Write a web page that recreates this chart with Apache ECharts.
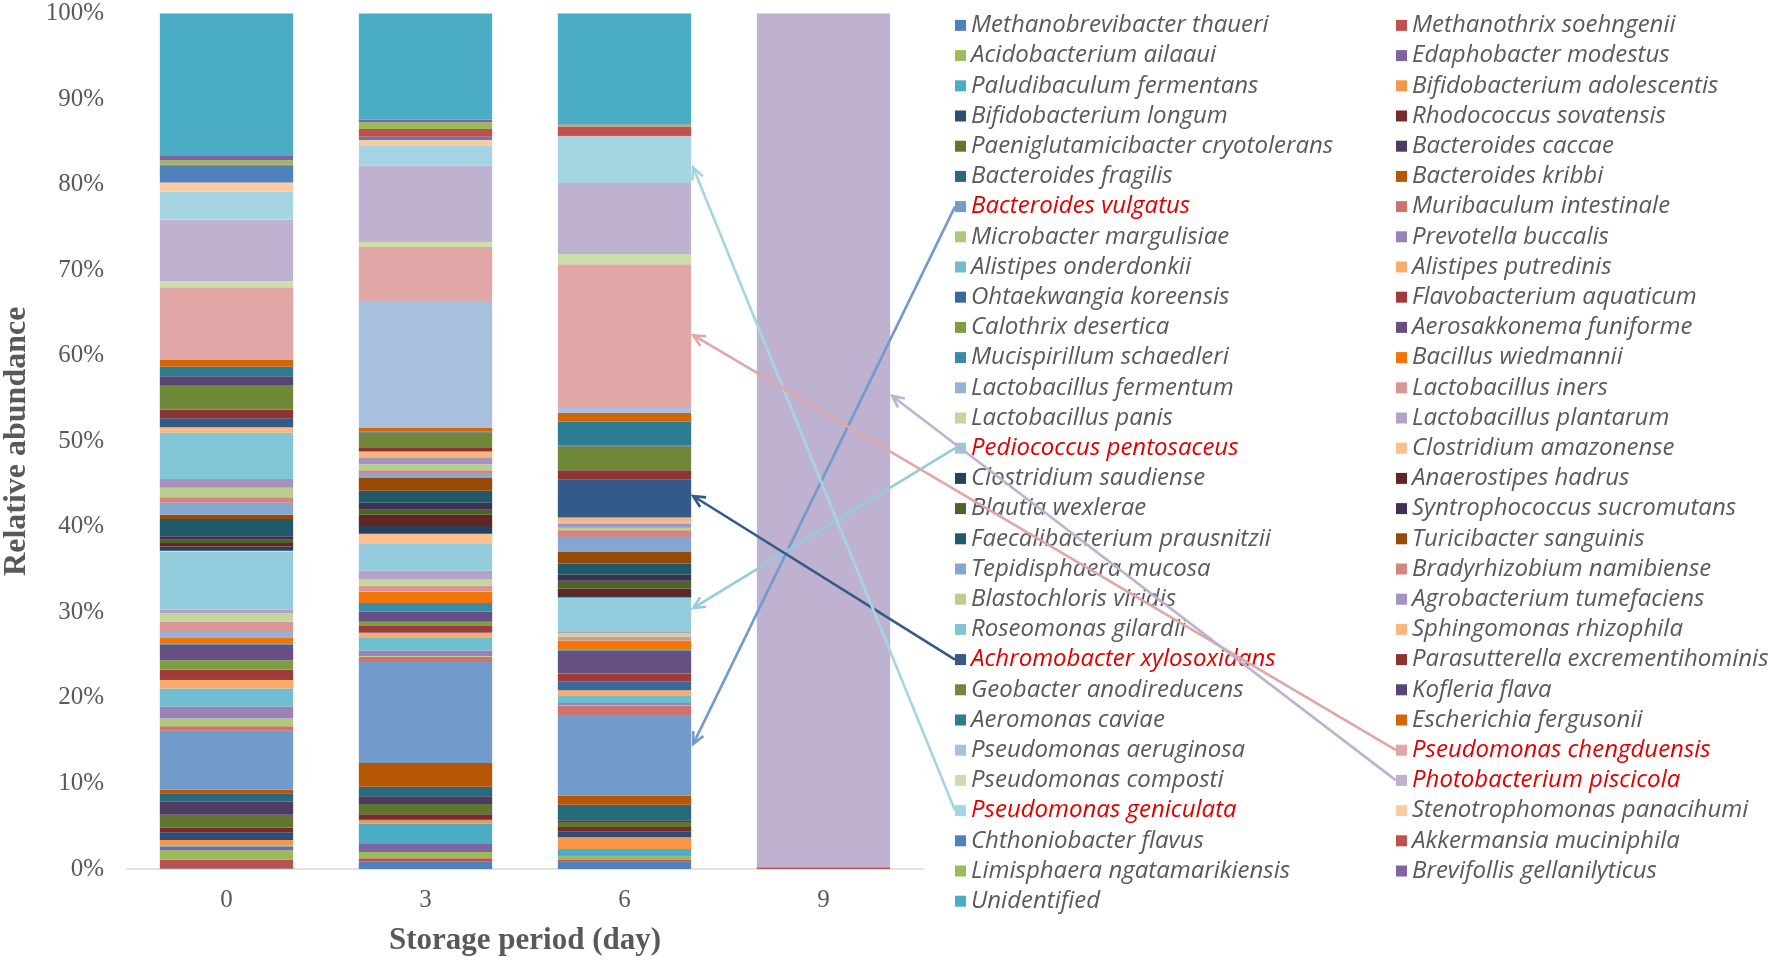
<!DOCTYPE html>
<html>
<head>
<meta charset="utf-8">
<script src="https://cdn.jsdelivr.net/npm/echarts@6/dist/echarts.min.js"></script>
<style>
html,body{margin:0;padding:0;background:#fff;}
#chart{width:1776px;height:961px;}
</style>
</head>
<body>
<div id="chart"></div>
<script>
// ---- categories ----
const days = ['0', '3', '6', '9'];

// ---- species in stacking order (bottom -> top) ----
const species = [
  'Methanobrevibacter thaueri', 'Methanothrix soehngenii',
  'Acidobacterium ailaaui', 'Edaphobacter modestus',
  'Paludibaculum fermentans', 'Bifidobacterium adolescentis',
  'Bifidobacterium longum', 'Rhodococcus sovatensis',
  'Paeniglutamicibacter cryotolerans', 'Bacteroides caccae',
  'Bacteroides fragilis', 'Bacteroides kribbi',
  'Bacteroides vulgatus', 'Muribaculum intestinale',
  'Microbacter margulisiae', 'Prevotella buccalis',
  'Alistipes onderdonkii', 'Alistipes putredinis',
  'Ohtaekwangia koreensis', 'Flavobacterium aquaticum',
  'Calothrix desertica', 'Aerosakkonema funiforme',
  'Mucispirillum schaedleri', 'Bacillus wiedmannii',
  'Lactobacillus fermentum', 'Lactobacillus iners',
  'Lactobacillus panis', 'Lactobacillus plantarum',
  'Pediococcus pentosaceus', 'Clostridium amazonense',
  'Clostridium saudiense', 'Anaerostipes hadrus',
  'Blautia wexlerae', 'Syntrophococcus sucromutans',
  'Faecalibacterium prausnitzii', 'Turicibacter sanguinis',
  'Tepidisphaera mucosa', 'Bradyrhizobium namibiense',
  'Blastochloris viridis', 'Agrobacterium tumefaciens',
  'Roseomonas gilardii', 'Sphingomonas rhizophila',
  'Achromobacter xylosoxidans', 'Parasutterella excrementihominis',
  'Geobacter anodireducens', 'Kofleria flava',
  'Aeromonas caviae', 'Escherichia fergusonii',
  'Pseudomonas aeruginosa', 'Pseudomonas chengduensis',
  'Pseudomonas composti', 'Photobacterium piscicola',
  'Pseudomonas geniculata', 'Stenotrophomonas panacihumi',
  'Chthoniobacter flavus', 'Akkermansia muciniphila',
  'Limisphaera ngatamarikiensis', 'Brevifollis gellanilyticus',
  'Unidentified'
];

// ---- relative abundance (%) per storage day, same order as species ----
const day0 = [
  0.1, 1.0, 1.1, 0.4, 0.15, 0.65,
  0.9, 0.55, 1.5, 1.5, 1.0, 0.4,
  6.9, 0.55, 0.9, 1.4, 2.1, 1.0,
  0.1, 1.1, 1.1, 1.8, 0.2, 0.6,
  0.7, 1.2, 1.0, 0.4, 6.8, 0.1,
  0.5, 0.4, 0.4, 0.4, 2.0, 0.5,
  1.4, 0.65, 1.1, 1.05, 5.4, 0.65,
  1.05, 1.0, 2.8, 1.1, 1.1, 0.8,
  0.0, 8.5, 0.7, 7.2, 3.3, 1.05,
  2.0, 0.1, 0.5, 0.5, 16.65
];
const day3 = [
  0.85, 0.4, 0.75, 1.0, 2.3, 0.4,
  0.05, 0.65, 1.2, 0.9, 1.1, 2.8,
  11.8, 0.6, 0.1, 0.6, 1.6, 0.5,
  0.05, 0.75, 0.5, 1.2, 1.0, 1.3,
  0.05, 0.65, 0.8, 1.0, 3.1, 1.2,
  0.9, 1.3, 0.6, 0.8, 1.4, 1.5,
  0.6, 0.3, 0.7, 0.8, 0.05, 0.65,
  0.05, 0.35, 1.8, 0.05, 0.05, 0.5,
  14.8, 6.3, 0.6, 8.9, 2.3, 0.7,
  0.4, 0.9, 0.8, 0.3, 12.4
];
const day6 = [
  0.85, 0.25, 0.4, 0.1, 0.75, 1.35,
  0.7, 0.5, 0.6, 0.2, 1.8, 1.1,
  9.4, 1.05, 0.05, 0.3, 0.9, 0.6,
  1.0, 0.9, 0.1, 2.6, 0.2, 1.0,
  0.05, 0.4, 0.45, 0.1, 4.0, 0.05,
  0.15, 0.9, 0.9, 0.7, 1.3, 1.4,
  1.7, 0.8, 0.3, 0.5, 0.1, 0.6,
  4.4, 1.1, 2.8, 0.1, 2.8, 1.0,
  0.6, 16.8, 1.2, 8.3, 5.4, 0.05,
  0.15, 1.0, 0.2, 0.05, 12.95
];
const day9 = [
  0, 0.2, 0, 0, 0, 0,
  0, 0, 0, 0, 0, 0,
  0, 0, 0, 0, 0, 0,
  0, 0, 0, 0, 0, 0,
  0, 0, 0, 0, 0, 0,
  0, 0, 0, 0, 0, 0,
  0, 0, 0, 0, 0, 0,
  0, 0, 0, 0, 0, 0,
  0, 0, 0, 99.8, 0, 0,
  0, 0, 0, 0, 0
];
const dayValues = [day0, day3, day6, day9];

// ---- species highlighted in red in the legend ----
const highlighted = [
  'Bacteroides vulgatus', 'Pediococcus pentosaceus', 'Achromobacter xylosoxidans',
  'Pseudomonas geniculata', 'Pseudomonas chengduensis', 'Photobacterium piscicola'
];

// ---- annotation arrows: species -> bar (day index) at abundance level ----
const arrowSpecies = ['Bacteroides vulgatus', 'Pediococcus pentosaceus', 'Achromobacter xylosoxidans',
  'Pseudomonas geniculata', 'Pseudomonas chengduensis', 'Photobacterium piscicola'];
const arrowDay = [2, 2, 2, 2, 2, 3];
const arrowLevel = [14.6, 30.5, 43.6, 82.0, 62.4, 55.3];

// ---- styling: Office 2007 theme accent palette with tint/shade variants ----
const accents = ['#4F81BD', '#C0504D', '#9BBB59', '#8064A2', '#4BACC6', '#F79646'];
const lumMods = [[1, 0], [0.6, 0], [0.8, 0.2], [0.8, 0], [0.6, 0.4], [0.5, 0], [0.7, 0.3], [0.7, 0], [0.5, 0.5]];
function hexToHsl(hex) {
  const r = parseInt(hex.substr(1, 2), 16) / 255, g = parseInt(hex.substr(3, 2), 16) / 255, b = parseInt(hex.substr(5, 2), 16) / 255;
  const mx = Math.max(r, g, b), mn = Math.min(r, g, b);
  let h = 0, s = 0; const l = (mx + mn) / 2;
  if (mx !== mn) {
    const d = mx - mn;
    s = d / (1 - Math.abs(2 * l - 1));
    if (mx === r) h = ((g - b) / d) % 6; else if (mx === g) h = (b - r) / d + 2; else h = (r - g) / d + 4;
    h *= 60; if (h < 0) h += 360;
  }
  return [h, s, l];
}
function hslToHex(h, s, l) {
  const c = (1 - Math.abs(2 * l - 1)) * s, x = c * (1 - Math.abs((h / 60) % 2 - 1)), m = l - c / 2;
  let rgb;
  if (h < 60) rgb = [c, x, 0]; else if (h < 120) rgb = [x, c, 0]; else if (h < 180) rgb = [0, c, x];
  else if (h < 240) rgb = [0, x, c]; else if (h < 300) rgb = [x, 0, c]; else rgb = [c, 0, x];
  return '#' + rgb.map(v => Math.round((v + m) * 255).toString(16).padStart(2, '0')).join('');
}
function excelColor(i) {
  const a = accents[i % 6];
  const mod = lumMods[Math.floor(i / 6) % 9];
  const [h, s, l] = hexToHsl(a);
  return hslToHex(h, s, Math.min(1, l * mod[0] + mod[1]));
}
const colors = species.map((_, i) => excelColor(i));

const TEXT = '#595959';
const SERIF = '"Liberation Serif", "Times New Roman", serif';
const LEG_FONT = '"Open Sans"';
const LEG_SIZE = 24;
const LEG_TOP = 13.4, LEG_LINE = 24, LEG_GAP = 6.2;
const LEG_LEFT = [955, 1396];

const chart = echarts.init(document.getElementById('chart'));

const series = species.map((name, i) => ({
  name: name,
  type: 'bar',
  stack: 'total',
  barWidth: '67%',
  itemStyle: { color: colors[i] },
  emphasis: { disabled: true },
  data: dayValues.map(d => d[i])
}));

function legendData(col) {
  return species.filter((_, i) => i % 2 === col).map(n =>
    highlighted.includes(n) ? { name: n, textStyle: { color: '#e00000' } } : { name: n });
}
function legendCfg(col) {
  return {
    orient: 'vertical',
    left: LEG_LEFT[col],
    top: LEG_TOP,
    itemWidth: 11,
    itemHeight: 11,
    itemGap: LEG_GAP,
    icon: 'rect',
    selectedMode: false,
    padding: 0,
    textStyle: { fontFamily: LEG_FONT, fontStyle: 'italic', fontSize: LEG_SIZE, lineHeight: LEG_LINE, color: TEXT },
    data: legendData(col)
  };
}

chart.setOption({
  animation: false,
  backgroundColor: '#fff',
  grid: { left: 123, right: 853, top: 13.5, bottom: 92 },
  legend: [legendCfg(0), legendCfg(1)],
  xAxis: {
    type: 'category',
    data: days,
    axisLine: { lineStyle: { color: '#d9d9d9', width: 1.5 } },
    axisTick: { show: false },
    axisLabel: { fontFamily: SERIF, fontSize: 25, color: TEXT, margin: 19 },
    name: 'Storage period (day)',
    nameLocation: 'middle',
    nameGap: 56,
    nameTextStyle: { fontFamily: SERIF, fontSize: 31, fontWeight: 'bold', color: TEXT }
  },
  yAxis: {
    type: 'value',
    min: 0, max: 100, interval: 10,
    axisLine: { show: false },
    axisTick: { show: false },
    splitLine: { show: false },
    axisLabel: { formatter: '{value}%', fontFamily: SERIF, fontSize: 25, color: TEXT, margin: 23 },
    name: 'Relative abundance',
    nameLocation: 'middle',
    nameGap: 94,
    nameTextStyle: { fontFamily: SERIF, fontSize: 32, fontWeight: 'bold', color: TEXT }
  },
  series: series
});

// ---- arrows from legend markers to bar segments ----
function drawArrows() {
  const p0 = chart.convertToPixel({ xAxisIndex: 0, yAxisIndex: 0 }, [0, 0]);
  const p1 = chart.convertToPixel({ xAxisIndex: 0, yAxisIndex: 0 }, [1, 0]);
  const half = (p1[0] - p0[0]) * 0.67 / 2;
  const els = [];
  arrowSpecies.forEach((name, k) => {
    const i = species.indexOf(name);
    const col = i % 2, row = Math.floor(i / 2);
    const sx = LEG_LEFT[col], sy = LEG_TOP + row * (LEG_LINE + LEG_GAP) + LEG_LINE / 2;
    const c = chart.convertToPixel({ xAxisIndex: 0, yAxisIndex: 0 }, [arrowDay[k], arrowLevel[k]]);
    const ex = c[0] + half + 2, ey = c[1];
    const ang = Math.atan2(ey - sy, ex - sx);
    const L = 13, A = 0.45;
    const col_ = colors[i];
    els.push({ type: 'line', z: 100, shape: { x1: sx, y1: sy, x2: ex, y2: ey }, style: { stroke: col_, lineWidth: 2.6 } });
    els.push({ type: 'polyline', z: 100, shape: { points: [
      [ex - L * Math.cos(ang - A), ey - L * Math.sin(ang - A)], [ex, ey],
      [ex - L * Math.cos(ang + A), ey - L * Math.sin(ang + A)]] },
      style: { stroke: col_, lineWidth: 2.6, fill: null } });
  });
  chart.setOption({ graphic: els });
}
drawArrows();
</script>
</body>
</html>
